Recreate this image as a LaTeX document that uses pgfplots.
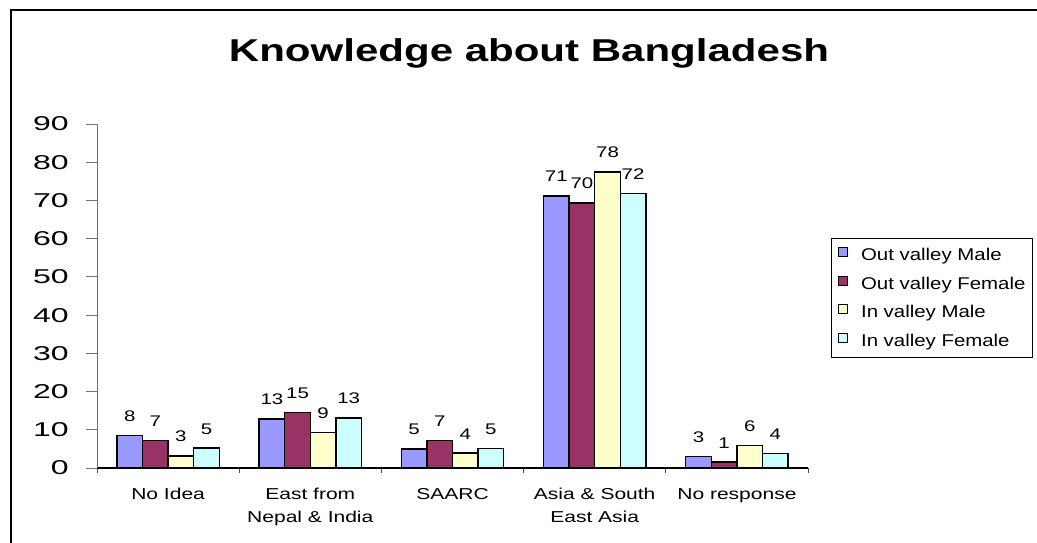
\documentclass[border=0pt]{standalone}
\usepackage{fontspec}
\setmainfont{Liberation Sans}[FakeStretch=1.33]
\newfontfamily\tickfont{Liberation Sans}[FakeStretch=1.6]
\newfontfamily\legfont{Liberation Sans}[FakeStretch=1.2]
\usepackage{pgfplots}
\pgfplotsset{compat=1.18}

\definecolor{ovm}{HTML}{9999FF}
\definecolor{ovf}{HTML}{993366}
\definecolor{ivm}{HTML}{FFFFCC}
\definecolor{ivf}{HTML}{CCFFFF}

\begin{document}
\begin{tikzpicture}
\useasboundingbox (0,0) rectangle (518.5pt,271pt);
% chart frame (cut off at the right and bottom)
\draw[line width=1pt] (5.25pt,-2pt) -- (5.25pt,266pt) -- (522pt,266pt);
\node[anchor=base, inner sep=0pt] at (264.5pt,240.4pt)
  {\bfseries\fontsize{15.8}{18}\selectfont Knowledge about Bangladesh};
\begin{axis}[
  at={(48.5pt,37pt)}, anchor=south west,
  scale only axis, width=355.5pt, height=172pt,
  ybar=0pt, bar width=0.18,
  xmin=-0.5, xmax=4.5, ymin=0, ymax=90,
  axis x line*=bottom, axis y line*=left,
  x axis line style={black, line width=0.6pt},
  y axis line style={black!55, line width=0.5pt},
  tick align=outside,
  major tick length=5.5pt,
  ytick={0,10,...,90},
  ytick style={black!55, line width=0.5pt},
  xtick={-0.5,0.5,...,4.5},
  x tick label as interval,
  xticklabels={No Idea, East from\\Nepal \& India, SAARC, Asia \& South\\East Asia, No response},
  xtick style={black!70, line width=0.5pt, /pgfplots/major tick length=2.5pt},
  xticklabel style={font=\fontsize{7.9}{11.5}\selectfont, align=center, inner sep=0pt, anchor=north, yshift=-4.5pt},
  /pgf/number format/assume math mode=true,
  yticklabel style={font=\tickfont\fontsize{10}{10}\selectfont, inner sep=0pt, anchor=east, xshift=-8.5pt},
  nodes near coords,
  point meta=explicit symbolic,
  nodes near coords style={font=\fontsize{7.7}{9}\selectfont, inner sep=0pt, anchor=south, yshift=6.6pt, black},
  every axis plot post/.append style={
    legend image code/.code={\draw[##1, line width=0.5pt] (0pt,-0.2pt) rectangle (4.5pt,4.3pt);}},
  legend cell align=left,
  legend style={at={(1.0323,0.6677)}, anchor=north west, draw=black, line width=0.5pt,
    font=\legfont\fontsize{8.5}{9}\selectfont,
    inner xsep=3.3pt, inner ysep=4pt, row sep=6.05pt,
    nodes={inner sep=0pt, text height=6pt, text depth=1.5pt},
    /tikz/every odd column/.append style={column sep=6.5pt}},
]
\addplot[fill=ovm, draw=black, line width=0.75pt] coordinates
  {(0,8.45) [8] (1,12.8) [13] (2,5.0) [5] (3,71.2) [71] (4,3.05) [3]};
\addplot[fill=ovf, draw=black, line width=0.75pt] coordinates
  {(0,7.2) [7] (1,14.5) [15] (2,7.2) [7] (3,69.4) [70] (4,1.57) [1]};
\addplot[fill=ivm, draw=black, line width=0.75pt] coordinates
  {(0,3.2) [3] (1,9.3) [9] (2,3.9) [4] (3,77.5) [78] (4,5.9) [6]};
\addplot[fill=ivf, draw=black, line width=0.75pt] coordinates
  {(0,5.2) [5] (1,13.1) [13] (2,5.05) [5] (3,71.8) [72] (4,3.8) [4]};
\legend{Out valley Male, Out valley Female, In valley Male, In valley Female}
\end{axis}
\end{tikzpicture}
\end{document}
